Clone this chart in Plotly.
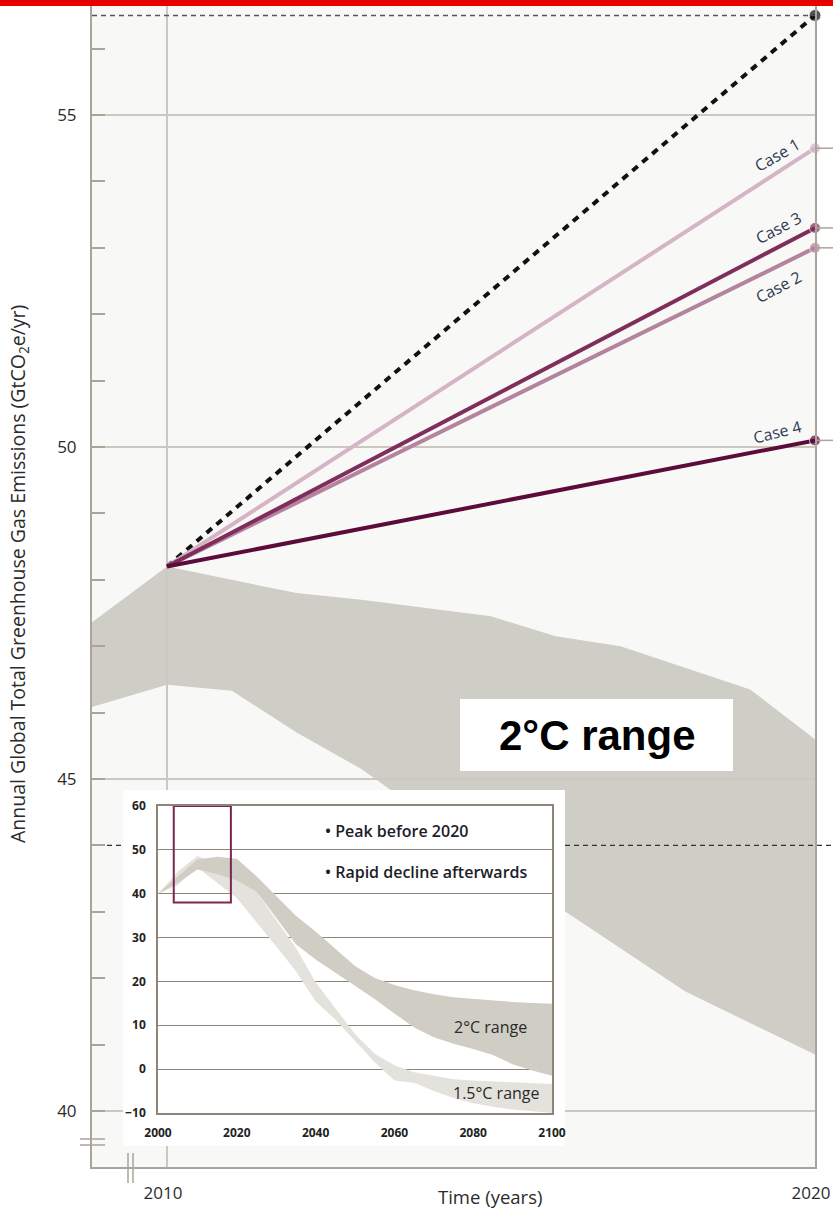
import plotly.graph_objects as go

# ---------------- data ----------------
start_year = 2010
end_year = 2020
start_value = 48.2
bau_end_value = 56.5
case_names = ["Case 1", "Case 2", "Case 3", "Case 4"]
case_end_values = [54.5, 53.0, 53.3, 50.1]

band_upper_years = [2008, 2010, 2012, 2013, 2015, 2016, 2017, 2019, 2020]
band_upper = [46.75, 48.2, 47.8, 47.7, 47.45, 47.15, 47.0, 46.35, 45.6]
band_lower_years = [2008, 2010, 2011, 2012, 2013, 2014, 2015, 2016, 2018, 2020]
band_lower = [45.84, 46.42, 46.33, 45.7, 45.15, 44.45, 43.8, 43.1, 41.8, 40.85]

reference_level = 44.0

main_y_ticks = [40, 45, 50, 55]
main_x_ticks = [2010, 2020]

inset_years = [2000, 2005, 2010, 2015, 2020, 2025, 2030, 2035, 2040, 2045, 2050,
               2055, 2060, 2065, 2070, 2075, 2080, 2085, 2090, 2095, 2100]
two_deg_upper = [40, 44, 47.8, 48.4, 48.0, 44.0, 39.5, 35.0, 31.4, 27.5, 23.5,
                 20.8, 19.2, 18.0, 17.1, 16.4, 16.0, 15.6, 15.3, 15.1, 14.9]
two_deg_lower = [40, 42.5, 45.5, 44.5, 43.0, 40.5, 34.5, 28.5, 25.0, 22.0, 19.0,
                 16.0, 12.7, 9.5, 7.3, 5.8, 4.6, 3.2, 1.1, -0.3, -1.5]
onefive_upper = [40, 45, 48.6, 47.0, 44.0, 40.5, 34.0, 27.7, 19.8, 14.0, 8.0,
                 3.5, 0.9, -0.7, -1.5, -2.3, -2.6, -2.8, -3.0, -3.2, -3.4]
onefive_lower = [40, 42.0, 46.0, 42.5, 39.0, 33.5, 28.0, 22.3, 15.5, 11.3, 6.5,
                 1.6, -2.6, -3.1, -5.0, -6.6, -7.8, -8.6, -9.2, -9.6, -10.0]
inset_y_ticks = [-10, 0, 10, 20, 30, 40, 50, 60]
inset_x_ticks = [2000, 2020, 2040, 2060, 2080, 2100]
highlight_years = [2004, 2018.5]
highlight_values = [38, 60]

# ---------------- styles / layout helpers ----------------
W, H = 833, 1209
ML, MR, MT, MB = 92, 18, 6, 42
PW, PH = W - ML - MR, H - MT - MB
X_RANGE = [2008.843, 2020.0]
Y_RANGE = [39.157, 56.642]


def px_x(px):
    return (px - ML) / PW


def px_y(py):
    return (H - MB - py) / PH


case_colors = ["#d5b4c6", "#b4839e", "#7f2e5b", "#5d0b3b"]
band_color = "#cfcec6"
grid_color = "#cdc8bf"
axis_color = "#aba498"
text_color = "#2b2b2b"
inset_line = "#8d8578"
FONT = "Open Sans"

fig = go.Figure()

# main 2°C band
fig.add_trace(go.Scatter(
    x=band_upper_years + band_lower_years[::-1],
    y=band_upper + band_lower[::-1],
    fill="toself", fillcolor=band_color, mode="lines",
    line=dict(width=0), hoverinfo="skip", showlegend=False))

# gridlines drawn over band
gx, gy = [], []
for v in main_y_ticks:
    gx += [X_RANGE[0], X_RANGE[1], None]
    gy += [v, v, None]
gx += [main_x_ticks[0], main_x_ticks[0], None]
gy += [Y_RANGE[0], Y_RANGE[1], None]
fig.add_trace(go.Scatter(x=gx, y=gy, mode="lines",
                         line=dict(color=grid_color, width=2),
                         hoverinfo="skip", showlegend=False))

# BAU dashed line
fig.add_trace(go.Scatter(
    x=[start_year, end_year], y=[start_value, bau_end_value],
    mode="lines+markers", line=dict(color="#111111", width=4, dash="7px,6px"),
    marker=dict(size=[0, 12], color="#111111"), cliponaxis=False,
    hoverinfo="skip", showlegend=False))

# cases (draw lightest first)
for name, val, col in zip(case_names, case_end_values, case_colors):
    fig.add_trace(go.Scatter(
        x=[start_year, end_year], y=[start_value, val],
        mode="lines+markers", line=dict(color=col, width=4),
        marker=dict(size=[0, 11], color=col), cliponaxis=False,
        hoverinfo="skip", showlegend=False, name=name))

# white box behind inset (empty subplot x2/y2)
fig.add_trace(go.Scatter(x=[0], y=[0], xaxis="x2", yaxis="y2", mode="markers",
                         marker=dict(opacity=0), hoverinfo="skip", showlegend=False))

# inset bands
fig.add_trace(go.Scatter(
    x=inset_years + inset_years[::-1], y=onefive_upper + onefive_lower[::-1],
    xaxis="x3", yaxis="y3", fill="toself", fillcolor="#e3e2dc", mode="lines",
    line=dict(width=0), hoverinfo="skip", showlegend=False))
fig.add_trace(go.Scatter(
    x=inset_years + inset_years[::-1], y=two_deg_upper + two_deg_lower[::-1],
    xaxis="x3", yaxis="y3", fill="toself", fillcolor="#cfcdc4", mode="lines",
    line=dict(width=0), hoverinfo="skip", showlegend=False))

shapes = []
# main plot background
shapes.append(dict(type="rect", xref="paper", yref="paper", x0=0, x1=1, y0=0, y1=1,
                   fillcolor="#f8f8f6", line=dict(width=0), layer="below"))
# red bar at top
shapes.append(dict(type="rect", xref="paper", yref="paper", x0=-ML / PW, x1=1 + MR / PW,
                   y0=1, y1=1 + MT / PH + 0.002, fillcolor="#e60000",
                   line=dict(width=0), layer="above"))
# top dashed reference (BAU level)
shapes.append(dict(type="line", xref="paper", yref="y", x0=0, x1=1,
                   y0=bau_end_value, y1=bau_end_value,
                   line=dict(color="#555555", width=1.5, dash="5px,4px"), layer="above"))
# dashed level lines either side of inset
for a, b in [(107, 123), (565, 833)]:
    shapes.append(dict(type="line", xref="paper", yref="y", x0=px_x(a), x1=px_x(b),
                       y0=reference_level, y1=reference_level,
                       line=dict(color="#333333", width=1.3, dash="5px,4px"), layer="above"))
# little ticks right of right axis at case ends
for val in case_end_values:
    shapes.append(dict(type="line", xref="paper", yref="y", x0=1, x1=px_x(833),
                       y0=val, y1=val, line=dict(color=axis_color, width=1.5)))
# axis break marks
for py in (1139, 1145):
    shapes.append(dict(type="line", xref="paper", yref="paper", x0=px_x(80), x1=px_x(105),
                       y0=px_y(py), y1=px_y(py), line=dict(color=axis_color, width=1.5)))
for pxv in (128, 133):
    shapes.append(dict(type="line", xref="paper", yref="paper", x0=px_x(pxv), x1=px_x(pxv),
                       y0=px_y(1153), y1=px_y(1183), line=dict(color=axis_color, width=1.5)))
# white label box
shapes.append(dict(type="rect", xref="paper", yref="paper", x0=px_x(460), x1=px_x(733),
                   y0=px_y(771), y1=px_y(699), fillcolor="white", line=dict(width=0),
                   layer="above"))
# inset highlight rectangle
shapes.append(dict(type="rect", xref="x3", yref="y3",
                   x0=highlight_years[0], x1=highlight_years[1],
                   y0=highlight_values[0], y1=highlight_values[1],
                   line=dict(color="#7a2850", width=2), layer="above"))

annotations = []
# case labels
label_offsets = {"Case 1": (-38, -7, -30), "Case 2": (-37, -39, -28),
                 "Case 3": (-37, 0, -28), "Case 4": (-38, 8, -14)}
for name, val in zip(case_names, case_end_values):
    dx, dy, ang = label_offsets[name]
    annotations.append(dict(x=end_year, y=val, xref="x", yref="y", text=name,
                            showarrow=False, xshift=dx, yshift=dy, textangle=ang,
                            xanchor="center", yanchor="middle",
                            font=dict(family=FONT, size=16, color="#2c3a52")))
# big 2°C range label
annotations.append(dict(x=px_x(597), y=px_y(735), xref="paper", yref="paper",
                        text="<b>2°C range</b>", showarrow=False,
                        xanchor="center", yanchor="middle",
                        font=dict(family="Liberation Sans", size=42, color="#000000")))
# axis titles
annotations.append(dict(x=px_x(18), y=px_y(574), xref="paper", yref="paper",
                        text="Annual Global Total Greenhouse Gas Emissions (GtCO<sub>2</sub>e/yr)",
                        textangle=-90, showarrow=False, xanchor="center", yanchor="middle",
                        font=dict(family=FONT, size=19.5, color=text_color)))
annotations.append(dict(x=px_x(490), y=px_y(1196), xref="paper", yref="paper",
                        text="Time (years)", showarrow=False,
                        xanchor="center", yanchor="middle",
                        font=dict(family=FONT, size=18.5, color=text_color)))
# inset texts
annotations.append(dict(x=2041.9, y=54.3, xref="x3", yref="y3", xanchor="left",
                        yanchor="middle", text="• Peak before 2020", showarrow=False,
                        font=dict(family=FONT, size=16, color="#1c1c28", weight=600)))
annotations.append(dict(x=2041.9, y=44.9, xref="x3", yref="y3", xanchor="left",
                        yanchor="middle", text="• Rapid decline afterwards", showarrow=False,
                        font=dict(family=FONT, size=16, color="#1c1c28", weight=600)))
annotations.append(dict(x=2084.3, y=9.6, xref="x3", yref="y3",
                        xanchor="center", yanchor="middle",
                        text="2°C range", showarrow=False,
                        font=dict(family=FONT, size=16, color="#2b2b2b")))
annotations.append(dict(x=2086, y=-5.4, xref="x3", yref="y3",
                        xanchor="center", yanchor="middle",
                        text="1.5°C range", showarrow=False,
                        font=dict(family=FONT, size=16, color="#2b2b2b")))

tickfont = dict(family=FONT, size=17, color=text_color)
inset_font = dict(family=FONT, size=12, color="#222222", weight="bold")

fig.update_layout(
    width=W, height=H,
    margin=dict(l=ML, r=MR, t=MT, b=MB, pad=0, autoexpand=False),
    paper_bgcolor="white", plot_bgcolor="white",
    showlegend=False,
    shapes=shapes, annotations=annotations,
    xaxis=dict(range=X_RANGE, tickvals=main_x_ticks, ticktext=[str(v) for v in main_x_ticks],
               ticks="", showgrid=False, zeroline=False, showline=True,
               linecolor=axis_color, linewidth=2, tickfont=tickfont,
               ticklabelstandoff=10, ticklabelshift=-4, ticklabeloverflow="allow",
               fixedrange=True),
    yaxis=dict(range=Y_RANGE, tickvals=main_y_ticks, ticks="", showgrid=False,
               zeroline=False, showline=True, mirror=True, linecolor=axis_color,
               linewidth=2, tickfont=tickfont, ticklabelstandoff=10, fixedrange=True,
               minor=dict(dtick=1, tick0=0, ticks="inside", ticklen=13,
                          tickcolor=axis_color, tickwidth=2, showgrid=False)),
    xaxis2=dict(domain=[px_x(123), px_x(565)], anchor="y2", range=[0, 1], visible=False,
                fixedrange=True),
    yaxis2=dict(domain=[px_y(1146), px_y(790)], anchor="x2", range=[0, 1], visible=False,
                fixedrange=True),
    xaxis3=dict(domain=[px_x(158), px_x(552)], anchor="y3", range=[2000, 2100],
                tickvals=inset_x_ticks, ticks="", showgrid=False, zeroline=False,
                showline=True, mirror=True, linecolor=inset_line, linewidth=1.5,
                tickfont=inset_font, ticklabelstandoff=8, fixedrange=True),
    yaxis3=dict(domain=[px_y(1113), px_y(806)], anchor="x3", range=[-10, 60],
                tickvals=inset_y_ticks, ticks="", showgrid=True, gridcolor=inset_line,
                gridwidth=1.2, zeroline=False, showline=True, mirror=True,
                linecolor=inset_line, linewidth=1.5, tickfont=inset_font,
                ticklabelstandoff=8, fixedrange=True, layer="above traces"),
)

fig.write_html(
    "out.html",
    config={"displayModeBar": False},
    post_script="document.body.style.margin='0px';document.body.style.padding='0px';"
                "document.documentElement.style.overflow='hidden';",
)
